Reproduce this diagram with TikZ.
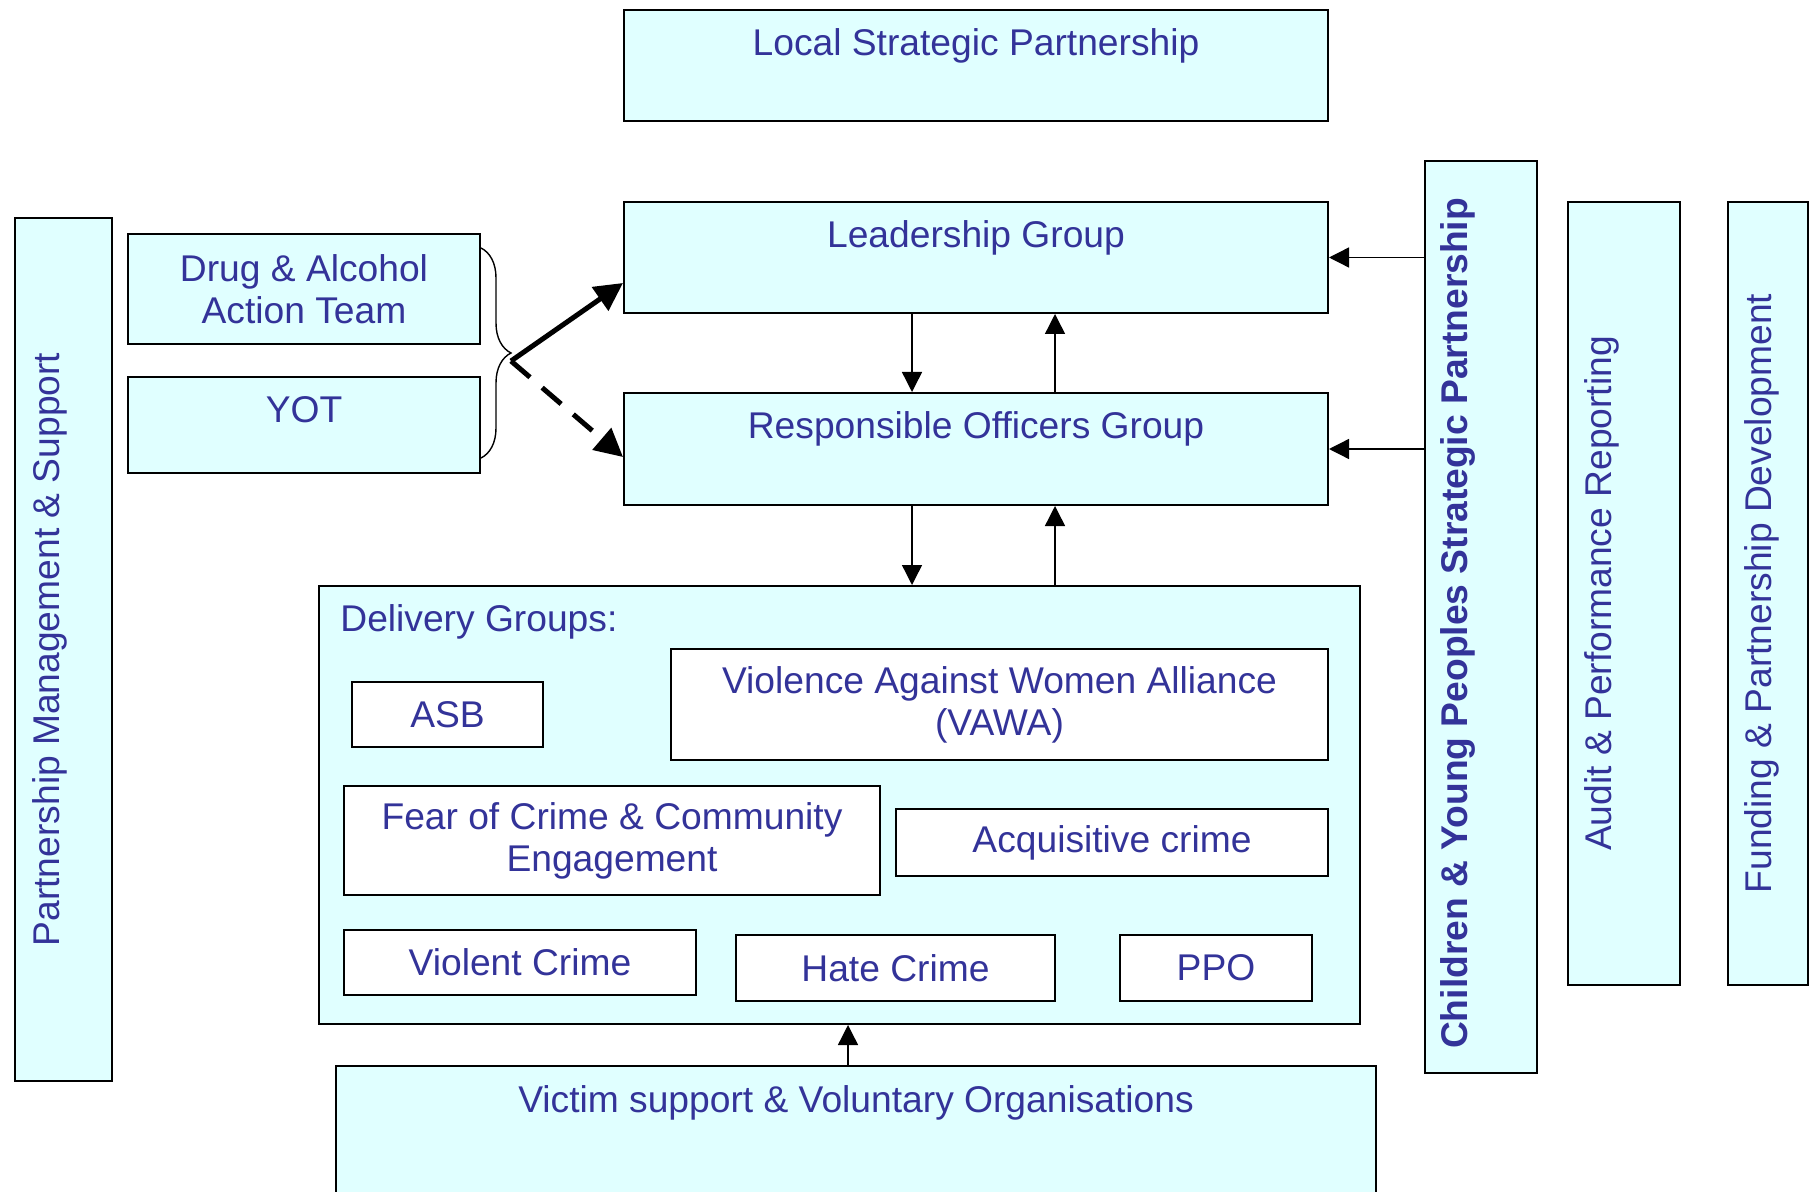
\documentclass[tikz,border=0pt]{standalone}
\usepackage{fontspec}
\setmainfont{Liberation Sans}
\usetikzlibrary{arrows.meta,positioning,decorations.pathreplacing}
\definecolor{boxfill}{RGB}{224,255,255}
\definecolor{navytext}{RGB}{51,51,153}
\tikzset{
  box/.style={draw,fill=boxfill,line width=1pt,inner sep=0pt,anchor=north west},
  txt/.style={text=navytext,font=\fontsize{18.6}{21}\selectfont,inner sep=0pt,align=center},
  cbox/.style={box,txt},
  wbox/.style={cbox,fill=white},
  sidetxt/.style={txt,rotate=90},
  arr/.style={line width=0.7pt,-{Triangle[length=10pt,width=10pt]}},
  bigarr/.style={line width=2.5pt,-{Triangle[length=14pt,width=14pt]}},
}
\begin{document}
\begin{tikzpicture}[x=0.5pt,y=-0.5pt]
\useasboundingbox (0,0) rectangle (1809,1192);
\clip (0,0) rectangle (1809,1192);
\node[box,minimum width=352pt,minimum height=55.5pt] (lsp) at (623,9) {};
\node[txt,below=9.5pt of lsp.north] (lsptxt) {Local Strategic Partnership};
\node[box,minimum width=352pt,minimum height=55.5pt] (lg) at (623,201) {};
\node[txt,below=9.5pt of lg.north] (lgtxt) {Leadership Group};
\node[box,minimum width=352pt,minimum height=56pt] (rog) at (623,392) {};
\node[txt,below=9.5pt of rog.north] (rogtxt) {Responsible Officers Group};
\node[cbox,minimum width=176pt,minimum height=55pt] (daat) at (127,233) {Drug \& Alcohol\\Action Team};
\node[box,minimum width=176pt,minimum height=48pt] (yot) at (127,376) {};
\node[txt,below=10pt of yot.north] (yottxt) {YOT};
\node[box,minimum width=48.5pt,minimum height=431.5pt] (pms) at (14,217) {};
\node[sidetxt,right=9pt of pms.west,anchor=north] (pmstxt) {Partnership Management \& Support};
\node[box,minimum width=56pt,minimum height=456pt] (cyp) at (1424,160) {};
\coordinate (cypmid) at ([yshift=-3.2pt]cyp.west);
\node[sidetxt,font=\fontsize{18.6}{21}\selectfont\bfseries,right=8pt of cypmid,anchor=north] (cyptxt) {Children \& Young Peoples Strategic Partnership};
\node[box,minimum width=56pt,minimum height=391.5pt] (audit) at (1567,201) {};
\node[sidetxt,right=8.5pt of audit.west,anchor=north] (audittxt) {Audit \& Performance Reporting};
\node[box,minimum width=40pt,minimum height=391.5pt] (fund) at (1727,201) {};
\node[sidetxt,right=8.5pt of fund.west,anchor=north] (fundtxt) {Funding \& Partnership Development};
\node[box,minimum width=520.5pt,minimum height=219pt] (dg) at (318,585) {};
\node[txt,below right=9.5pt and 11pt of dg.north west] (dgtxt) {Delivery Groups:};
\node[wbox,minimum width=95.5pt,minimum height=32.5pt] (asb) at (351,681) {ASB};
\node[wbox,minimum width=328.5pt,minimum height=55.5pt] (vawa) at (670,648) {Violence Against Women Alliance\\(VAWA)};
\node[wbox,minimum width=268pt,minimum height=54.5pt] (fear) at (343,785) {Fear of Crime \& Community\\Engagement};
\node[wbox,minimum width=216pt,minimum height=33.5pt] (acq) at (895,808) {Acquisitive crime};
\node[wbox,minimum width=176pt,minimum height=32.5pt] (viol) at (343,929) {Violent Crime};
\node[wbox,minimum width=159.5pt,minimum height=33pt] (hate) at (735,934) {Hate Crime};
\node[wbox,minimum width=96pt,minimum height=33pt] (ppo) at (1119,934) {PPO};
\node[box,minimum width=520pt,minimum height=70pt] (vs) at (335,1065) {};
\node[txt,below=10pt of vs.north] (vstxt) {Victim support \& Voluntary Organisations};
\draw[arr] (cyp.west |- lg.east) -- (lg.east);
\draw[arr] (cyp.west |- rog.east) -- (rog.east);
\draw[arr] ([xshift=-32pt]lg.south) -- ([xshift=-32pt]rog.north);
\draw[arr] ([xshift=39.5pt]rog.north) -- ([xshift=39.5pt]lg.south);
\draw[arr] ([xshift=-32pt]rog.south) -- ([xshift=-32pt]rog.south |- dg.north);
\draw[arr] ([xshift=39.5pt]rog.south |- dg.north) -- ([xshift=39.5pt]rog.south);
\draw[arr] ([xshift=-4pt]vs.north) -- ([xshift=-4pt]vs.north |- dg.south);
\draw[decorate,decoration={brace,amplitude=15pt},line width=0.7pt] ([yshift=-7.5pt]daat.north east) -- ([yshift=8pt]yot.south east);
\coordinate (fork) at (511,361);
\draw[bigarr] (fork) -- ([yshift=-12.75pt]lg.west);
\draw[bigarr,dash pattern=on 12.5pt off 8pt] (fork) -- ([yshift=-4pt]rog.west);
\end{tikzpicture}
\end{document}
